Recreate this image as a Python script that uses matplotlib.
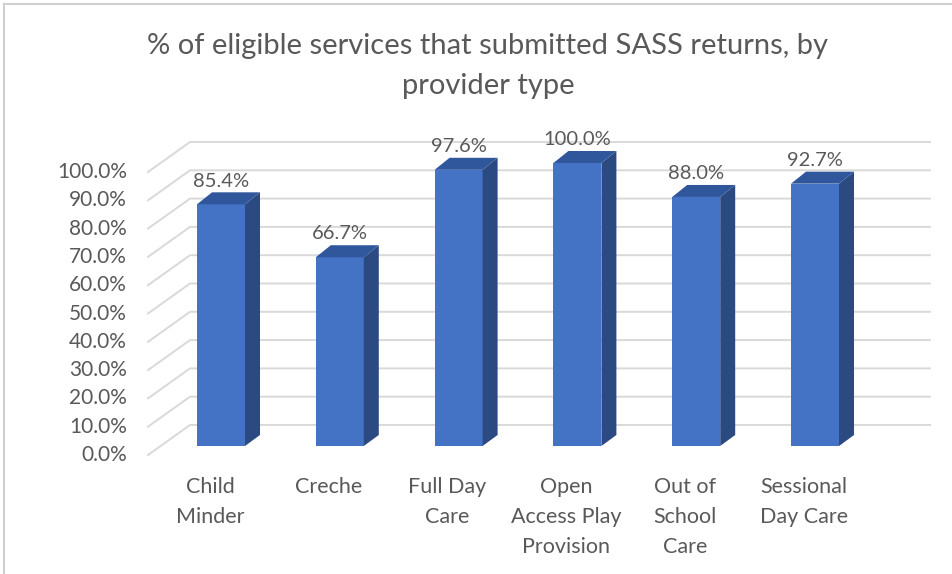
import matplotlib.pyplot as plt
from matplotlib.patches import Polygon
from matplotlib.lines import Line2D

categories = ["Child\nMinder", "Creche", "Full Day\nCare", "Open\nAccess Play\nProvision",
              "Out of\nSchool\nCare", "Sessional\nDay Care"]
values = [85.4, 66.7, 97.6, 100.0, 88.0, 92.7]
yticks = [0, 10, 20, 30, 40, 50, 60, 70, 80, 90, 100]
title = "% of eligible services that submitted SASS returns, by\nprovider type"

plt.rcParams['font.family'] = ['Lato', 'DejaVu Sans']
grey = '#595959'
front = '#4472C4'
side = '#2C4A82'
top = '#30569B'

W, H = 952, 574
fig = plt.figure(figsize=(W / 100, H / 100), dpi=100)
# axes: left edge 148px, right 930px, value 0 at 446px, 100 at 163px
ax = fig.add_axes([148 / W, (H - 446) / H, (930 - 148) / W, 283 / H])
step = 118.8
xl0, xl1 = (148 - 221) / step, (930 - 221) / step
ax.set_xlim(xl0, xl1)
ax.set_ylim(0, 100)
ax.axis('off')

DX = 1 / step      # one pixel in x data units
DY = 100 / 283     # one pixel in y data units

# back wall gridlines + floor diagonals
for v in yticks:
    ax.plot([xl0, xl0 + 42 * DX, xl1], [v - 9 * DY, v + 21 * DY, v + 21 * DY],
            color='#D9D9D9', lw=1.4, clip_on=False, zorder=0)
    ax.text(xl0 - 21 * DX, v - 9 * DY, f"{v:.1f}%", ha='right', va='center',
            fontsize=15, color=grey)

bw = 48 / step
xs = list(range(len(values)))
ax.bar(xs, values, width=bw, color=front, zorder=3, clip_on=False)
for i, v in enumerate(values):
    xl, xr = i - bw / 2, i + bw / 2
    ax.add_patch(Polygon([(xr, 0), (xr + 15 * DX, 11 * DY), (xr + 15 * DX, v + 12 * DY), (xr, v)],
                         closed=True, color=side, zorder=3, lw=0, clip_on=False))
    ax.add_patch(Polygon([(xl, v), (xr, v), (xr + 15 * DX, v + 12 * DY), (xl + 15 * DX, v + 12 * DY)],
                         closed=True, color=top, zorder=3, lw=0, clip_on=False))
    ax.annotate(f"{v:.1f}%", xy=(i, v + 12 * DY), xytext=(0, 2), textcoords='offset points',
                ha='center', va='bottom', fontsize=14.5, color=grey, annotation_clip=False)
    ax.text(i - 11 * DX, -31 * DY, categories[i], ha='center', va='top',
            linespacing=1.62, fontsize=15.5, color=grey)

fig.text(488 / W, 1 - 66 / H, title, ha='center', va='center', linespacing=1.68,
         fontsize=21, color=grey)

# chart frame
fig.add_artist(Line2D([4 / W, 1], [1 - 4 / H, 1 - 4 / H], transform=fig.transFigure,
                      color='#D0D0D0', lw=1.5))
fig.add_artist(Line2D([4 / W, 4 / W], [0, 1 - 4 / H], transform=fig.transFigure,
                      color='#D0D0D0', lw=1.5))

fig.savefig('out.png', dpi=100, facecolor='white')
